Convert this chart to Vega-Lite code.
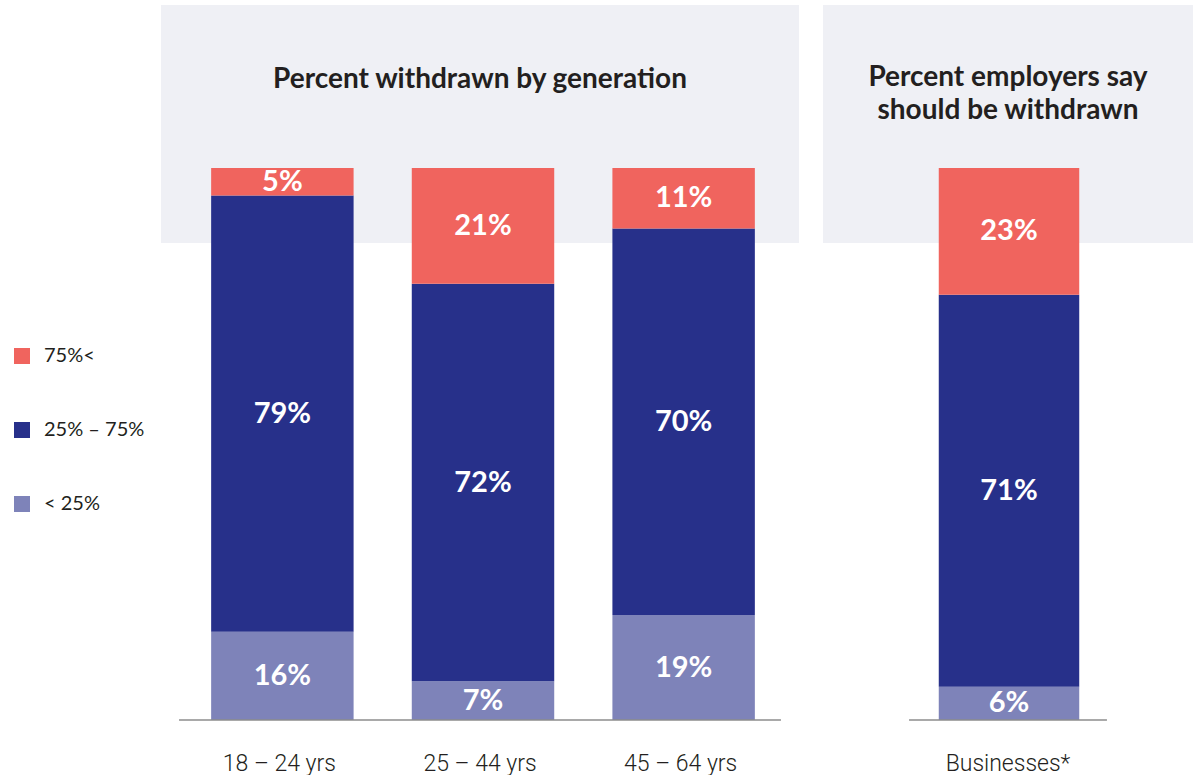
{
  "$schema": "https://vega.github.io/schema/vega-lite/v6.json",
  "padding": {"left": 12, "top": 5, "right": 1, "bottom": 0},
  "background": "white",
  "config": {
    "view": {"stroke": null},
    "font": "Lato",
    "axis": {"labelFont": "Roboto", "labelFontWeight": 300, "labelFontSize": 23, "labelColor": "#231f20", "ticks": false, "domain": false, "grid": false, "labelPadding": 32, "labelAngle": 0}
  },
  "datasets": {
    "d": [
      {"panel": "gen", "group": "18 – 24 yrs", "cat": "< 25%", "rank": 1, "value": 0.16},
      {"panel": "gen", "group": "18 – 24 yrs", "cat": "25% – 75%", "rank": 2, "value": 0.79},
      {"panel": "gen", "group": "18 – 24 yrs", "cat": "75%<", "rank": 3, "value": 0.05},
      {"panel": "gen", "group": "25 – 44 yrs", "cat": "< 25%", "rank": 1, "value": 0.07},
      {"panel": "gen", "group": "25 – 44 yrs", "cat": "25% – 75%", "rank": 2, "value": 0.72},
      {"panel": "gen", "group": "25 – 44 yrs", "cat": "75%<", "rank": 3, "value": 0.21},
      {"panel": "gen", "group": "45 – 64 yrs", "cat": "< 25%", "rank": 1, "value": 0.19},
      {"panel": "gen", "group": "45 – 64 yrs", "cat": "25% – 75%", "rank": 2, "value": 0.70},
      {"panel": "gen", "group": "45 – 64 yrs", "cat": "75%<", "rank": 3, "value": 0.11},
      {"panel": "emp", "group": "Businesses*", "cat": "< 25%", "rank": 1, "value": 0.06},
      {"panel": "emp", "group": "Businesses*", "cat": "25% – 75%", "rank": 2, "value": 0.71},
      {"panel": "emp", "group": "Businesses*", "cat": "75%<", "rank": 3, "value": 0.23}
    ]
  },
  "spacing": 24,
  "resolve": {"scale": {"x": "independent", "y": "independent", "color": "shared"}},
  "hconcat": [
    {
      "width": 638,
      "height": 715,
      "title": {"text": "Percent withdrawn by generation", "offset": -89, "baseline": "top", "fontSize": 28, "fontWeight": "bold", "color": "#231f20", "anchor": "middle", "font": "Lato"},
      "layer": [
        {
          "data": {"values": [{}]},
          "mark": {"type": "rect", "color": "#eff0f5"},
          "encoding": {
            "y": {"datum": 0.864, "type": "quantitative", "scale": {"domain": [0, 1.295], "nice": false, "zero": true}, "axis": null},
            "y2": {"datum": 1.295}
          }
        },
        {
          "data": {"name": "d"},
          "transform": [
            {"filter": "datum.panel === 'gen'"},
            {"stack": "value", "groupby": ["group"], "sort": [{"field": "rank", "order": "ascending"}], "as": ["v0", "v1"]},
            {"calculate": "(datum.v0 + datum.v1) / 2", "as": "mid"}
          ],
          "encoding": {
            "x": {"field": "group", "type": "nominal", "title": null, "scale": {"domain": ["18 – 24 yrs", "25 – 44 yrs", "45 – 64 yrs"], "paddingInner": 0, "paddingOuter": 0.09}}
          },
          "layer": [
            {
              "mark": {"type": "bar", "width": {"band": 0.71}, "xOffset": 3},
              "encoding": {
                "y": {"field": "v0", "type": "quantitative"},
                "y2": {"field": "v1"},
                "color": {"field": "cat", "type": "nominal", "scale": {"domain": ["75%<", "25% – 75%", "< 25%"], "range": ["#f0645e", "#27308a", "#7e83b9"]},
                  "legend": {"title": null, "orient": "none", "legendX": -149, "legendY": 341, "symbolType": "square", "symbolSize": 256, "symbolStrokeWidth": 0, "labelFont": "Lato", "labelFontSize": 20, "labelColor": "#231f20", "labelOffset": 12, "rowPadding": 54, "padding": 0,
                    "encode": {"symbols": {"enter": {"fill": {"signal": "datum.value === '< 25%' ? '#a9acd1' : scale('color', datum.value)"}}, "update": {"fill": {"signal": "datum.value === '< 25%' ? '#a9acd1' : scale('color', datum.value)"}, "opacity": {"value": 1}}}}}}
              }
            },
            {
              "mark": {"type": "text", "color": "white", "fontWeight": "bold", "fontSize": 29, "baseline": "middle", "font": "Lato", "xOffset": 3},
              "encoding": {
                "y": {"field": "mid", "type": "quantitative"},
                "text": {"field": "value", "type": "quantitative", "format": ".0%"}
              }
            }
          ]
        },
        {
          "data": {"values": [{}]},
          "mark": {"type": "rule", "color": "#8c8c8c", "strokeWidth": 1.5},
          "encoding": {
            "x": {"datum": "18 – 24 yrs", "type": "nominal", "bandPosition": 0},
            "x2": {"datum": "45 – 64 yrs", "bandPosition": 1},
            "y": {"datum": 0, "type": "quantitative"}
          }
        }
      ]
    },
    {
      "width": 370,
      "height": 715,
      "title": {"text": ["Percent employers say", "should be withdrawn"], "offset": -120, "baseline": "top", "fontSize": 28, "lineHeight": 33, "fontWeight": "bold", "color": "#231f20", "anchor": "middle", "font": "Lato"},
      "layer": [
        {
          "data": {"values": [{}]},
          "mark": {"type": "rect", "color": "#eff0f5"},
          "encoding": {
            "y": {"datum": 0.864, "type": "quantitative", "scale": {"domain": [0, 1.295], "nice": false, "zero": true}, "axis": null},
            "y2": {"datum": 1.295}
          }
        },
        {
          "data": {"name": "d"},
          "transform": [
            {"filter": "datum.panel === 'emp'"},
            {"stack": "value", "groupby": ["group"], "sort": [{"field": "rank", "order": "ascending"}], "as": ["v0", "v1"]},
            {"calculate": "(datum.v0 + datum.v1) / 2", "as": "mid"}
          ],
          "encoding": {
            "x": {"field": "group", "type": "nominal", "title": null, "scale": {"domain": ["Businesses*"], "paddingInner": 0, "paddingOuter": 0.435}}
          },
          "layer": [
            {
              "mark": {"type": "bar", "width": {"band": 0.71}, "xOffset": 1},
              "encoding": {
                "y": {"field": "v0", "type": "quantitative"},
                "y2": {"field": "v1"},
                "color": {"field": "cat", "type": "nominal"}
              }
            },
            {
              "mark": {"type": "text", "color": "white", "fontWeight": "bold", "fontSize": 29, "baseline": "middle", "font": "Lato", "xOffset": 1},
              "encoding": {
                "y": {"field": "mid", "type": "quantitative"},
                "text": {"field": "value", "type": "quantitative", "format": ".0%"}
              }
            }
          ]
        },
        {
          "data": {"values": [{}]},
          "mark": {"type": "rule", "color": "#8c8c8c", "strokeWidth": 1.5},
          "encoding": {
            "x": {"datum": "Businesses*", "type": "nominal", "bandPosition": 0},
            "x2": {"datum": "Businesses*", "bandPosition": 1},
            "y": {"datum": 0, "type": "quantitative"}
          }
        }
      ]
    }
  ]
}
